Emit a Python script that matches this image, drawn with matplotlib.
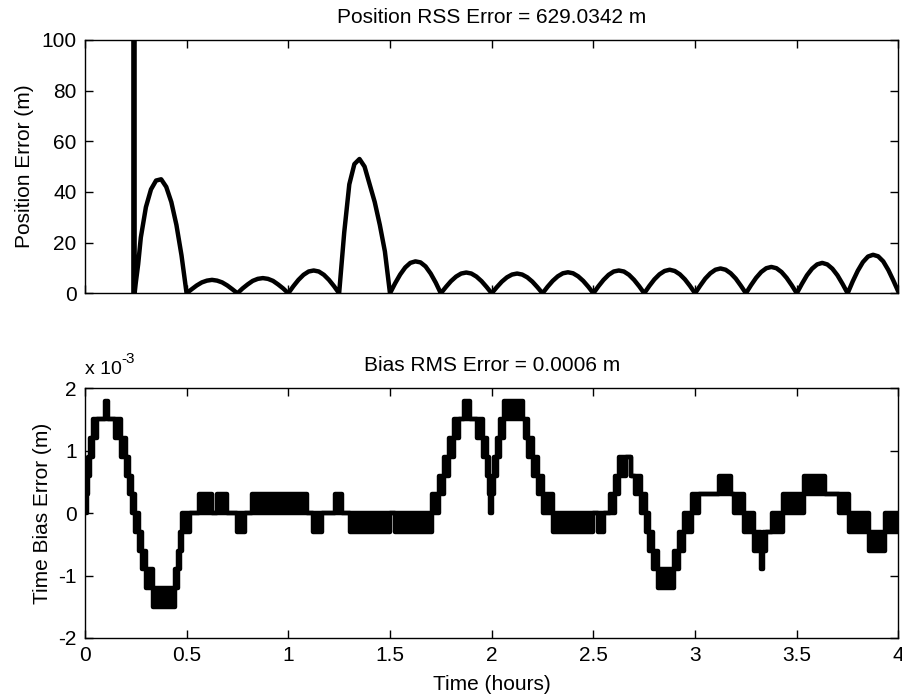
import numpy as np
import matplotlib
matplotlib.use("Agg")
import matplotlib.pyplot as plt

plt.rcParams['font.family'] = ['Liberation Sans', 'DejaVu Sans']
plt.rcParams['axes.unicode_minus'] = False

# Position error (m): spike where the filter starts, then one arch per quarter hour
pos_t_start = [0.2385, 0.2395, 0.2445, 0.25, 0.262, 0.275, 0.30, 0.325, 0.35, 0.375,
               0.40, 0.425, 0.45, 0.475]
pos_v_start = [0, 2000, 0, 4, 11.5, 22, 34, 41, 44.5, 45, 42, 36, 27, 15]

# arches sampled every 0.025 h from 0.5 h to 4.0 h
pos_v_arches = [
    0, 1.6, 3.1, 4.3, 5.0, 5.3, 5.0, 4.3, 3.1, 1.6,
    0, 1.9, 3.5, 4.9, 5.7, 6.0, 5.7, 4.9, 3.5, 1.9,
    0, 2.8, 5.3, 7.3, 8.6, 9.0, 8.6, 7.3, 5.3, 2.8,
    0, 24, 43, 51, 53, 50, 43, 36, 27, 16.5,
    0, 3.9, 7.4, 10.2, 12.0, 12.6, 12.2, 10.6, 7.8, 4.2,
    0, 2.5, 4.8, 6.6, 7.8, 8.2, 7.8, 6.6, 4.8, 2.5,
    0, 2.4, 4.6, 6.3, 7.4, 7.8, 7.4, 6.3, 4.6, 2.4,
    0, 2.6, 4.9, 6.7, 7.9, 8.3, 7.9, 6.7, 4.9, 2.6,
    0, 2.8, 5.3, 7.3, 8.6, 9.0, 8.6, 7.3, 5.3, 2.8,
    0, 2.9, 5.5, 7.5, 8.8, 9.3, 8.8, 7.5, 5.5, 2.9,
    0, 3.0, 5.8, 7.9, 9.3, 9.8, 9.3, 7.9, 5.8, 3.0,
    0, 3.2, 6.1, 8.4, 9.9, 10.4, 9.9, 8.4, 6.1, 3.2,
    0, 3.7, 7.1, 9.7, 11.4, 12.0, 11.4, 9.7, 7.1, 3.7,
    0, 4.7, 8.9, 12.3, 14.5, 15.2, 14.6, 12.6, 9.2, 5.0,
    0.5,
]
pos_t_arches = np.round(0.5 + 0.025 * np.arange(len(pos_v_arches)), 3)

pos_t = np.concatenate([pos_t_start, pos_t_arches])
pos_v = np.concatenate([pos_v_start, pos_v_arches])

# Time bias error (x 1e-3 m): quantised steps, lo/hi = levels it toggles between
bias_t = [0.000, 0.008, 0.016, 0.026, 0.042, 0.058, 0.100, 0.114, 0.150, 0.180,
          0.200, 0.215, 0.232, 0.248, 0.265, 0.283, 0.300, 0.335, 0.443, 0.458,
          0.468, 0.478, 0.515, 0.560, 0.625, 0.650, 0.700, 0.746, 0.787, 0.820,
          1.090, 1.120, 1.165, 1.230, 1.265, 1.305, 1.500, 1.525, 1.705, 1.740,
          1.765, 1.790, 1.815, 1.840, 1.865, 1.895, 1.930, 1.955, 1.975, 1.985,
          1.993, 2.003, 2.013, 2.028, 2.043, 2.060, 2.155, 2.165, 2.180, 2.205,
          2.230, 2.250, 2.300, 2.500, 2.525, 2.550, 2.580, 2.605, 2.625, 2.660,
          2.685, 2.705, 2.735, 2.760, 2.775, 2.795, 2.820, 2.895, 2.920, 2.945,
          2.985, 3.020, 3.120, 3.175, 3.190, 3.240, 3.290, 3.325, 3.335, 3.350,
          3.380, 3.430, 3.535, 3.640, 3.710, 3.755, 3.855, 3.935, 4.000]
bias_lo = [0.0, 0.3, 0.6, 0.9, 1.2, 1.5, 1.5, 1.5, 1.2, 0.9,
           0.6, 0.3, 0.0, -0.3, -0.6, -0.9, -1.2, -1.5, -1.2, -0.9,
           -0.6, -0.3, 0.0, 0.0, 0.0, 0.0, 0.0, -0.3, 0.0, 0.0,
           0.0, -0.3, 0.0, 0.0, 0.0, -0.3, 0.0, -0.3, 0.0, 0.3,
           0.6, 0.9, 1.2, 1.5, 1.5, 1.5, 1.2, 0.9, 0.6, 0.3,
           0.0, 0.3, 0.6, 0.9, 1.2, 1.5, 1.5, 1.2, 0.9, 0.6,
           0.3, 0.0, -0.3, 0.0, -0.3, 0.0, 0.0, 0.3, 0.6, 0.9,
           0.6, 0.3, 0.0, -0.3, -0.6, -0.9, -1.2, -0.9, -0.6, -0.3,
           0.0, 0.3, 0.3, 0.3, 0.0, -0.3, -0.6, -0.9, -0.6, -0.3,
           -0.3, 0.0, 0.3, 0.3, 0.0, -0.3, -0.6, -0.3, -0.3]
bias_hi = [0.3, 0.6, 0.9, 1.2, 1.5, 1.5, 1.8, 1.5, 1.5, 1.2,
           0.9, 0.6, 0.3, 0.0, -0.3, -0.6, -0.9, -1.2, -0.9, -0.6,
           -0.3, 0.0, 0.0, 0.3, 0.0, 0.3, 0.0, 0.0, 0.0, 0.3,
           0.0, 0.0, 0.0, 0.3, 0.0, 0.0, 0.0, 0.0, 0.3, 0.6,
           0.9, 1.2, 1.5, 1.5, 1.8, 1.5, 1.5, 1.2, 0.9, 0.6,
           0.3, 0.6, 0.9, 1.2, 1.5, 1.8, 1.5, 1.5, 1.2, 0.9,
           0.6, 0.3, 0.0, 0.0, 0.0, 0.0, 0.3, 0.6, 0.9, 0.9,
           0.6, 0.6, 0.3, 0.0, -0.3, -0.6, -0.9, -0.6, -0.3, 0.0,
           0.3, 0.3, 0.6, 0.3, 0.3, 0.0, -0.3, -0.6, -0.3, -0.3,
           0.0, 0.3, 0.6, 0.3, 0.3, 0.0, -0.3, 0.0, 0.0]

pos_title = 'Position RSS Error = 629.0342 m'
bias_title = 'Bias RMS Error = 0.0006 m'
fs = 15

fig = plt.figure(figsize=(9.03, 7.0), dpi=100)
ax1 = fig.add_axes([0.094, 0.581, 0.901, 0.362])
ax2 = fig.add_axes([0.094, 0.0886, 0.901, 0.357])

lw = 3.2
ax1.plot(pos_t, pos_v, color='black', lw=lw, solid_joinstyle='round')
ax1.set_xlim(0, 4)
ax1.set_ylim(0, 100)
ax1.set_xticks([0, 0.5, 1, 1.5, 2, 2.5, 3, 3.5, 4])
ax1.set_xticklabels([])
ax1.set_yticks([0, 20, 40, 60, 80, 100])
ax1.set_ylabel('Position Error (m)', fontsize=fs, labelpad=5)
ax1.set_title(pos_title, fontsize=fs, pad=12)

ax2.fill_between(bias_t, bias_lo, bias_hi, step='post', color='black', lw=0)
ax2.step(bias_t, bias_lo, where='post', color='black', lw=lw)
ax2.step(bias_t, bias_hi, where='post', color='black', lw=lw)
ax2.set_xlim(0, 4)
ax2.set_ylim(-2, 2)
ax2.set_xticks([0, 0.5, 1, 1.5, 2, 2.5, 3, 3.5, 4])
ax2.set_xticklabels(['0', '0.5', '1', '1.5', '2', '2.5', '3', '3.5', '4'])
ax2.set_yticks([-2, -1, 0, 1, 2])
ax2.set_xlabel('Time (hours)', fontsize=fs, labelpad=7)
ax2.set_ylabel('Time Bias Error (m)', fontsize=fs, labelpad=4)
ax2.set_title(bias_title, fontsize=fs, pad=12)
mult = ax2.text(0, 1.04, 'x 10', transform=ax2.transAxes, fontsize=14,
                ha='left', va='bottom')
ax2.annotate('-3', xy=(1.0, 0.7), xycoords=mult, fontsize=11,
             ha='left', va='bottom')

for ax in (ax1, ax2):
    ax.tick_params(direction='in', length=6, width=1, top=True, right=True,
                   labelsize=fs, pad=6)
    for sp in ax.spines.values():
        sp.set_linewidth(1.0)

fig.savefig('out.png', dpi=100, facecolor='white')
